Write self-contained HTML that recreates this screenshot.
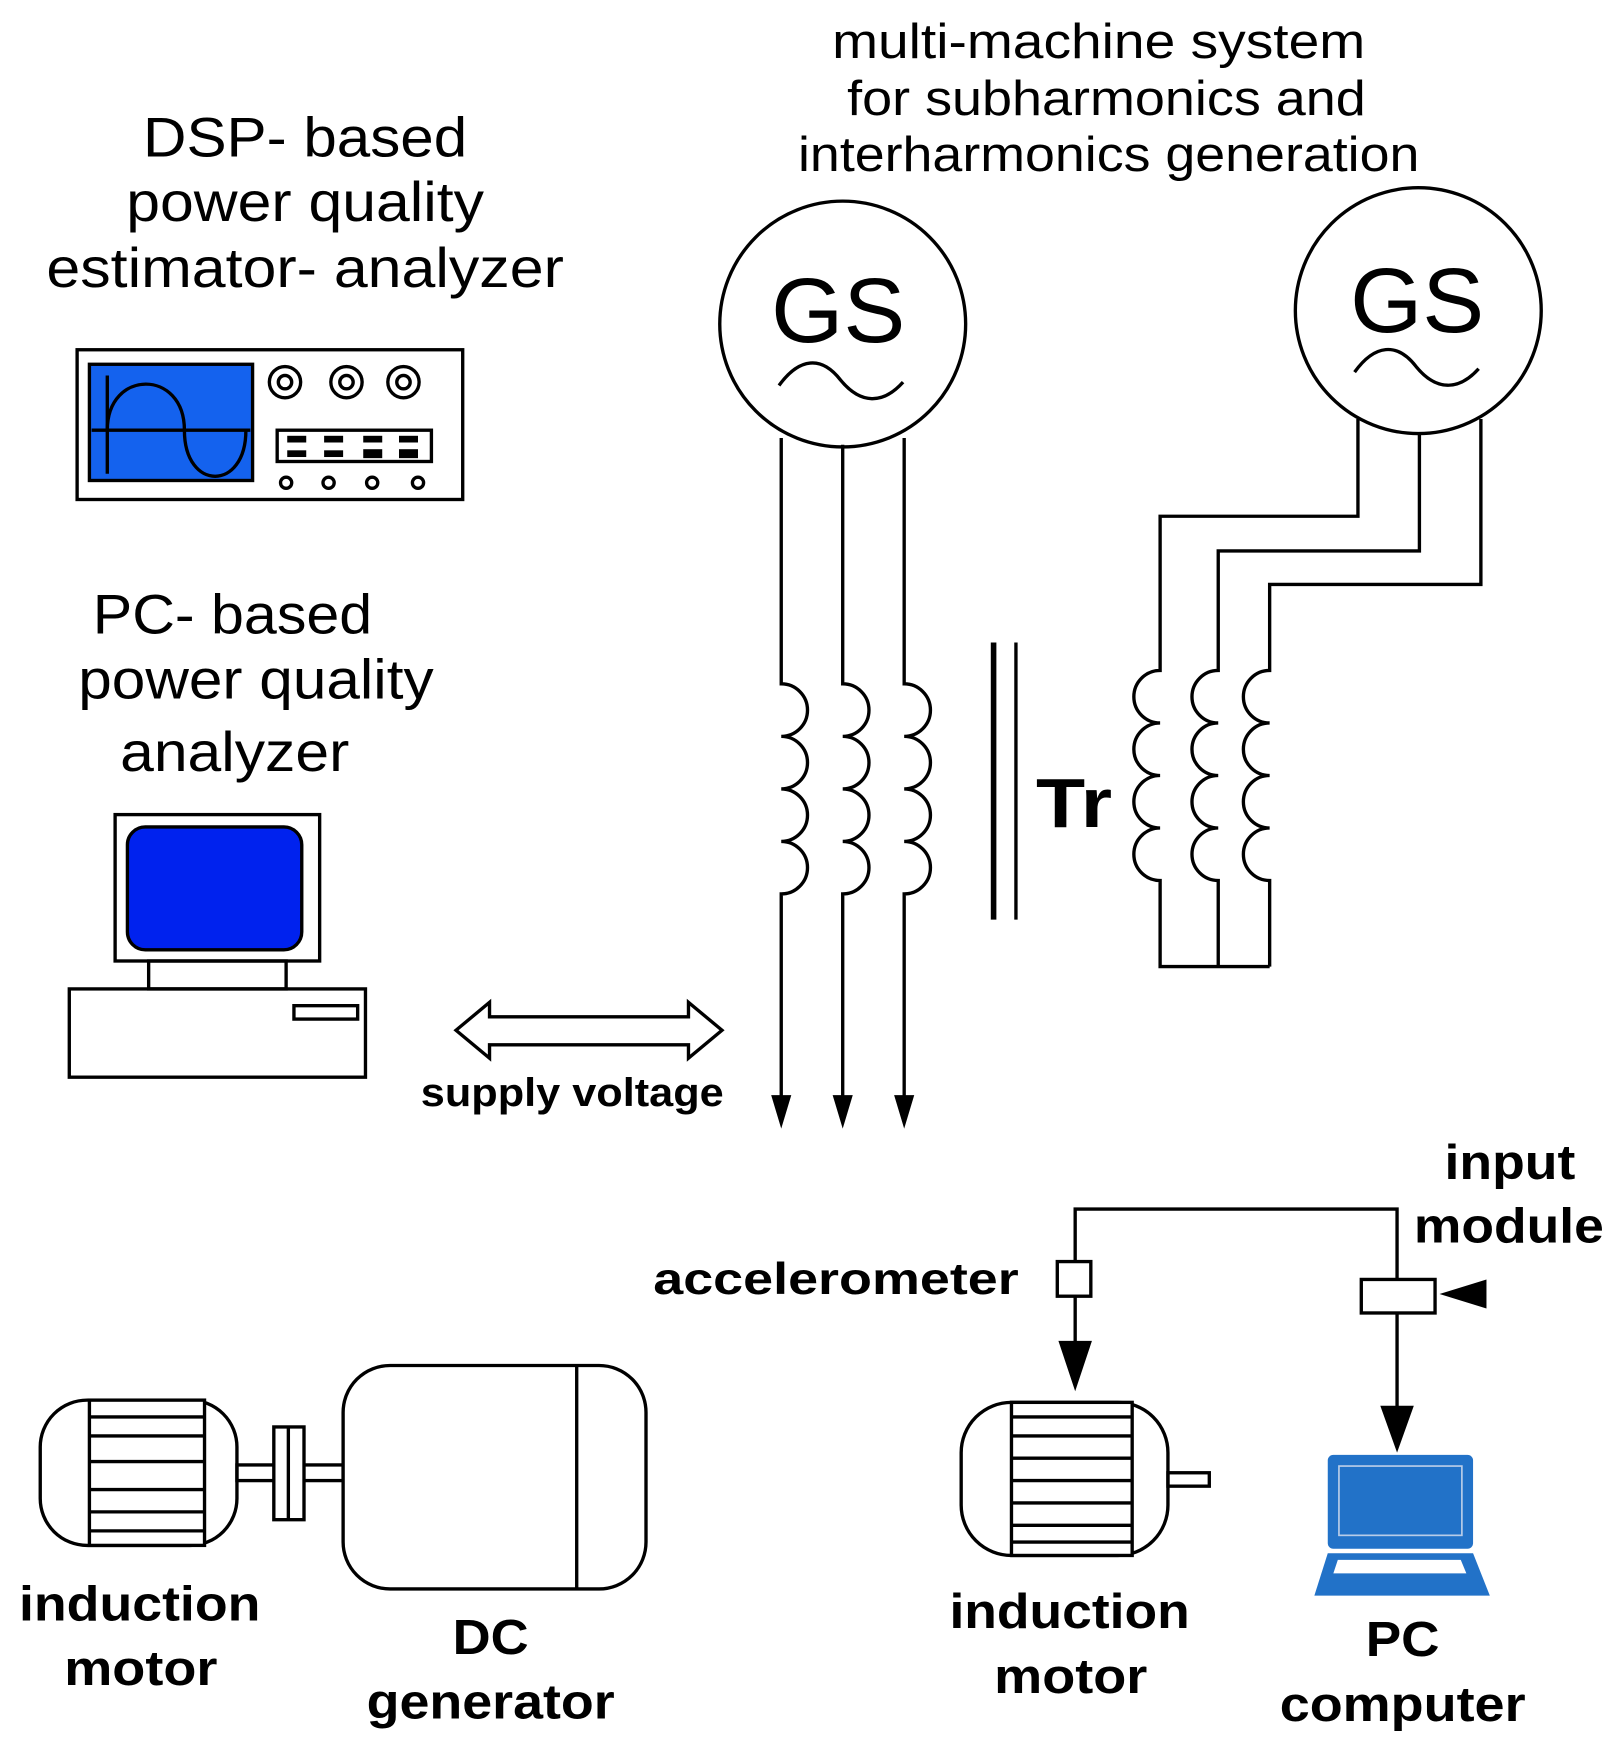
<!DOCTYPE html>
<html><head><meta charset="utf-8"><style>html,body{margin:0;padding:0;background:#fff}svg{display:block}</style></head>
<body>
<svg width="1615" height="1751" viewBox="0 0 1445 1567" preserveAspectRatio="none" xmlns="http://www.w3.org/2000/svg" font-family="Liberation Sans, sans-serif">
<rect width="1445" height="1567" fill="#fff"/>
<g fill="#000" text-anchor="middle" lengthAdjust="spacingAndGlyphs">
<text x="273" y="140" font-size="50" textLength="290" lengthAdjust="spacingAndGlyphs">DSP- based</text>
<text x="273" y="198" font-size="50" textLength="320" lengthAdjust="spacingAndGlyphs">power quality</text>
<text x="273" y="257" font-size="50" textLength="463" lengthAdjust="spacingAndGlyphs">estimator- analyzer</text>
<text x="208" y="567" font-size="50" textLength="250" lengthAdjust="spacingAndGlyphs">PC- based</text>
<text x="229" y="625" font-size="50" textLength="318" lengthAdjust="spacingAndGlyphs">power quality</text>
<text x="210" y="690" font-size="50" textLength="205" lengthAdjust="spacingAndGlyphs">analyzer</text>
<text x="983" y="52" font-size="44" textLength="477" lengthAdjust="spacingAndGlyphs">multi-machine system</text>
<text x="990" y="103" font-size="44" textLength="464" lengthAdjust="spacingAndGlyphs">for subharmonics and</text>
<text x="992" y="153" font-size="44" textLength="556" lengthAdjust="spacingAndGlyphs">interharmonics generation</text>
<text x="750" y="306" font-size="82" textLength="120" lengthAdjust="spacingAndGlyphs">GS</text>
<text x="1268" y="297" font-size="82" textLength="120" lengthAdjust="spacingAndGlyphs">GS</text>
<g font-weight="bold">
<text x="512" y="990" font-size="36" textLength="271" lengthAdjust="spacingAndGlyphs">supply voltage</text>
<text x="961" y="740" font-size="62" textLength="68" lengthAdjust="spacingAndGlyphs">Tr</text>
<text x="748" y="1158" font-size="40" textLength="327" lengthAdjust="spacingAndGlyphs">accelerometer</text>
<text x="1351" y="1055" font-size="44" textLength="117" lengthAdjust="spacingAndGlyphs">input</text>
<text x="1350" y="1112" font-size="44" textLength="170" lengthAdjust="spacingAndGlyphs">module</text>
<text x="957" y="1457" font-size="44" textLength="215" lengthAdjust="spacingAndGlyphs">induction</text>
<text x="958" y="1515" font-size="44" textLength="137" lengthAdjust="spacingAndGlyphs">motor</text>
<text x="1255" y="1482" font-size="44" textLength="66" lengthAdjust="spacingAndGlyphs">PC</text>
<text x="1255" y="1540" font-size="44" textLength="220" lengthAdjust="spacingAndGlyphs">computer</text>
<text x="125" y="1450" font-size="44" textLength="216" lengthAdjust="spacingAndGlyphs">induction</text>
<text x="126" y="1508" font-size="44" textLength="137" lengthAdjust="spacingAndGlyphs">motor</text>
<text x="439" y="1480" font-size="44" textLength="68" lengthAdjust="spacingAndGlyphs">DC</text>
<text x="439" y="1538" font-size="44" textLength="222" lengthAdjust="spacingAndGlyphs">generator</text>
</g></g>
<g fill="none" stroke="#000" stroke-width="3">
<rect x="69" y="313" width="345" height="134" fill="#fff"/>
<rect x="80" y="326" width="146" height="104" fill="#1462ee"/>
<line x1="96" y1="336" x2="96" y2="424"/>
<line x1="82" y1="385" x2="224" y2="385"/>
<path d="M96 385 C96 330 165 330 165 385 C165 440 220 440 220 385"/>
<circle cx="255" cy="342" r="14"/><circle cx="255" cy="342" r="6"/>
<circle cx="310" cy="342" r="14"/><circle cx="310" cy="342" r="6"/>
<circle cx="361" cy="342" r="14"/><circle cx="361" cy="342" r="6"/>
<rect x="248" y="385" width="138" height="28"/>
<circle cx="256" cy="432" r="5"/><circle cx="294" cy="432" r="5"/><circle cx="333" cy="432" r="5"/><circle cx="374" cy="432" r="5"/>
<rect x="103" y="729" width="183" height="131"/>
<rect x="114" y="740" width="156" height="110" rx="16" fill="#0022ee"/>
<rect x="133" y="860" width="123" height="25"/>
<rect x="62" y="885" width="265" height="79"/>
<rect x="263" y="900" width="57" height="12"/>
<path d="M408 922 L438 897 L438 910 L616 910 L616 897 L646 922 L616 947 L616 935 L438 935 L438 947 Z"/>
<circle cx="754" cy="290" r="110"/>
<path d="M697 345 C715 320 735 318 752 340 C770 362 790 362 808 342"/>
<circle cx="1269" cy="278" r="110"/>
<path d="M1212 333 C1230 308 1250 306 1267 328 C1285 350 1305 350 1323 330"/>
<path d="M699 392 V612 a23.5 23.5 0 0 1 0 47 a23.5 23.5 0 0 1 0 47 a23.5 23.5 0 0 1 0 47 a23.5 23.5 0 0 1 0 47 V995"/>
<path d="M754 398 V612 a23.5 23.5 0 0 1 0 47 a23.5 23.5 0 0 1 0 47 a23.5 23.5 0 0 1 0 47 a23.5 23.5 0 0 1 0 47 V995"/>
<path d="M809 392 V612 a23.5 23.5 0 0 1 0 47 a23.5 23.5 0 0 1 0 47 a23.5 23.5 0 0 1 0 47 a23.5 23.5 0 0 1 0 47 V995"/>
<line x1="889" y1="575" x2="889" y2="823" stroke-width="5"/>
<line x1="909" y1="575" x2="909" y2="823"/>
<path d="M1215 375 V462 H1038 V600 a23.5 23.5 0 0 0 0 47 a23.5 23.5 0 0 0 0 47 a23.5 23.5 0 0 0 0 47 a23.5 23.5 0 0 0 0 47 V865 H1136"/>
<path d="M1270 387 V493 H1090 V600 a23.5 23.5 0 0 0 0 47 a23.5 23.5 0 0 0 0 47 a23.5 23.5 0 0 0 0 47 a23.5 23.5 0 0 0 0 47 V865"/>
<path d="M1325 375 V523 H1136 V600 a23.5 23.5 0 0 0 0 47 a23.5 23.5 0 0 0 0 47 a23.5 23.5 0 0 0 0 47 a23.5 23.5 0 0 0 0 47 V865"/>
<path d="M962 1129 V1082 H1250 V1145"/>
<rect x="946" y="1129" width="30" height="31"/>
<line x1="962" y1="1160" x2="962" y2="1205"/>
<rect x="1218" y="1145" width="66" height="30"/>
<line x1="1250" y1="1175" x2="1250" y2="1265"/>
<rect x="860" y="1255" width="185" height="137" rx="45"/>
<rect x="905" y="1255" width="108" height="137" fill="#fff"/>
<path d="M905 1268 H1013 M905 1285 H1013 M905 1305 H1013 M905 1325 H1013 M905 1345 H1013 M905 1365 H1013 M905 1380 H1013"/>
<rect x="1045" y="1318" width="37" height="12"/>
<rect x="36" y="1253" width="176" height="130" rx="42"/>
<rect x="80" y="1253" width="103" height="130" fill="#fff"/>
<path d="M80 1268 H183 M80 1285 H183 M80 1308 H183 M80 1333 H183 M80 1353 H183 M80 1370 H183"/>
<rect x="212" y="1311" width="95" height="14"/>
<rect x="245" y="1277" width="27" height="83" fill="#fff"/>
<line x1="258" y1="1277" x2="258" y2="1360"/>
<rect x="307" y="1222" width="271" height="200" rx="42" fill="#fff"/>
<line x1="516" y1="1222" x2="516" y2="1422"/>
</g>
<g fill="#000">
<rect x="257" y="390" width="17" height="6"/><rect x="290" y="390" width="17" height="6"/><rect x="325" y="390" width="17" height="6"/><rect x="357" y="390" width="17" height="6"/>
<rect x="257" y="403" width="17" height="6"/><rect x="290" y="403" width="17" height="6"/><rect x="325" y="402" width="17" height="8"/><rect x="357" y="402" width="17" height="8"/>
<path d="M690 980 L708 980 L699 1010 Z"/>
<path d="M745 980 L763 980 L754 1010 Z"/>
<path d="M800 980 L818 980 L809 1010 Z"/>
<path d="M947 1200 L977 1200 L962 1245 Z"/>
<path d="M1235 1258 L1265 1258 L1250 1300 Z"/>
<path d="M1288 1158 L1330 1145 L1330 1171 Z"/>
</g>
<rect x="1188" y="1302" width="130" height="84" rx="5" fill="#2272c8"/>
<rect x="1198" y="1312" width="110" height="62" fill="none" stroke="#b8cce8" stroke-width="1.5"/>
<path d="M1188 1390 H1318 L1333 1428 H1176 Z" fill="#2272c8"/>
<path d="M1197 1396 H1307 L1312 1408 H1193 Z" fill="#fff"/>
</svg>
</body></html>
